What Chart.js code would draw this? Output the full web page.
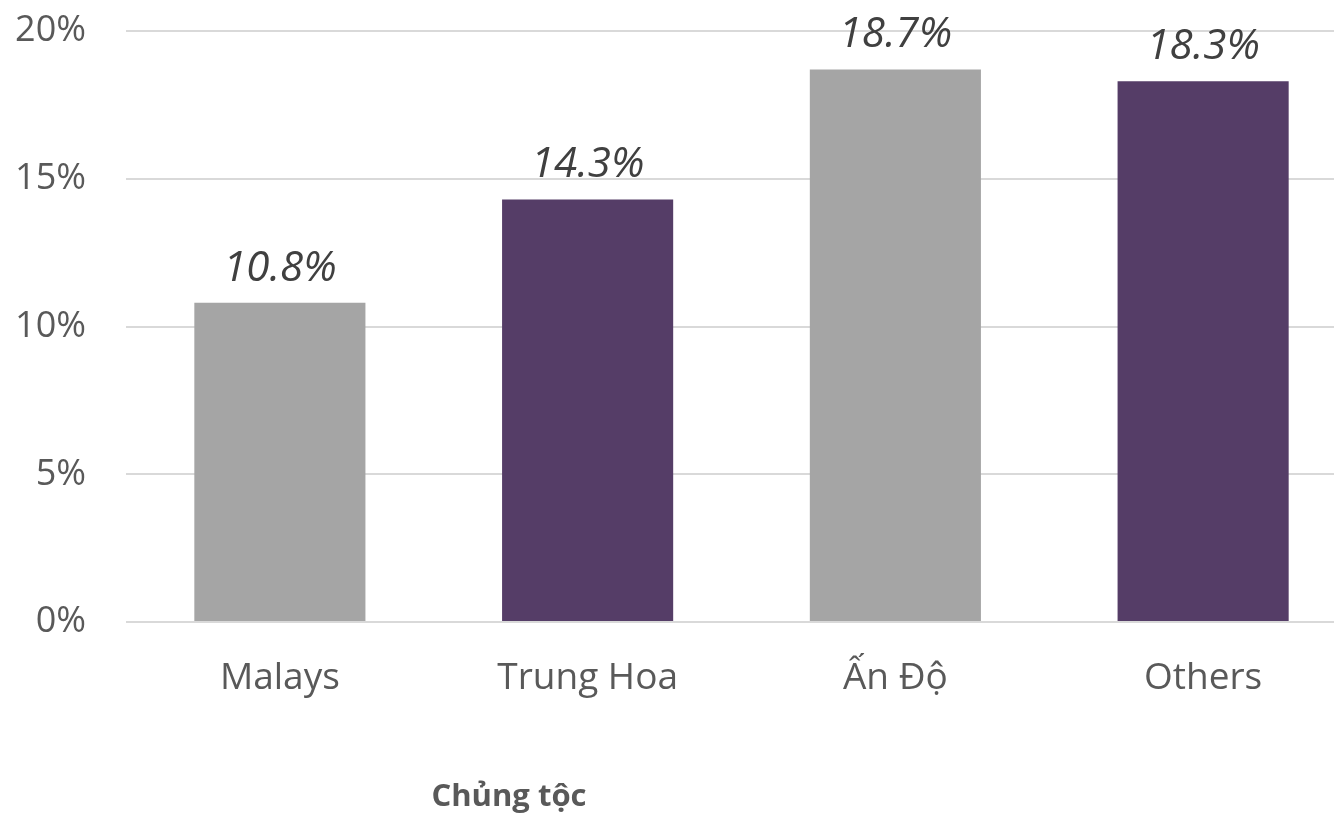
<!DOCTYPE html>
<html>
<head>
<meta charset="utf-8">
<script src="https://cdn.jsdelivr.net/npm/chart.js@4"></script>
<style>
  html, body { margin: 0; padding: 0; background: #fff; overflow: hidden; }
  canvas { display: block; }
</style>
</head>
<body>
<canvas id="raceChart" width="1357" height="815"></canvas>
<script>
/* ── Data ── */
const categories = ["Malays", "Trung Hoa", "Ấn Độ", "Others"];
const shares = [10.8, 14.3, 18.7, 18.3];
const barColors = ["#A5A5A5", "#553D67", "#A5A5A5", "#553D67"];
const yTicks = [0, 5, 10, 15, 20];
const axisTitle = "Chủng tộc";

const FONT = "'Open Sans', sans-serif";

/* value labels above bars, drawn from bar elements */
const valueLabels = {
  id: "valueLabels",
  afterDatasetsDraw(chart) {
    const ctx = chart.ctx;
    const meta = chart.getDatasetMeta(0);
    ctx.save();
    ctx.font = "italic 42px " + FONT;
    ctx.fillStyle = "#404040";
    ctx.textAlign = "center";
    ctx.textBaseline = "alphabetic";
    meta.data.forEach((bar, i) => {
      ctx.fillText(shares[i].toFixed(1) + "%", bar.x, bar.y - 22);
    });
    ctx.restore();
  }
};

/* axis title sits left of centre, as in the source */
const bottomTitle = {
  id: "bottomTitle",
  afterDraw(chart) {
    const ctx = chart.ctx;
    ctx.save();
    ctx.font = "bold 31px " + FONT;
    ctx.fillStyle = "#595959";
    ctx.textAlign = "center";
    ctx.textBaseline = "alphabetic";
    ctx.fillText(axisTitle, 509, 806);
    ctx.restore();
  }
};

new Chart(document.getElementById("raceChart"), {
  type: "bar",
  data: {
    labels: categories,
    datasets: [{
      data: shares,
      backgroundColor: barColors,
      borderWidth: 0,
      categoryPercentage: 1,
      barPercentage: 0.556
    }]
  },
  options: {
    responsive: false,
    animation: false,
    layout: { padding: { top: 31, right: 0, left: 0, bottom: 0 } },
    plugins: {
      legend: { display: false },
      tooltip: { enabled: false }
    },
    scales: {
      x: {
        grid: { display: false },
        border: { display: false },
        ticks: { color: "#595959", font: { family: FONT, size: 37 }, padding: 26 },
        afterFit(scale) { scale.height = 193; }
      },
      y: {
        min: 0, max: 20,
        afterBuildTicks(scale) { scale.ticks = yTicks.map(v => ({ value: v })); },
        grid: { color: "#D9D9D9", lineWidth: 2, drawTicks: false },
        border: { display: false },
        ticks: {
          color: "#595959",
          font: { family: FONT, size: 36 },
          padding: 40,
          callback: v => v + "%"
        },
        afterFit(scale) {
          scale.width = 126;
          scale.paddingTop = 0;
          scale.paddingBottom = 0;
        }
      }
    }
  },
  plugins: [valueLabels, bottomTitle]
});
</script>
</body>
</html>
